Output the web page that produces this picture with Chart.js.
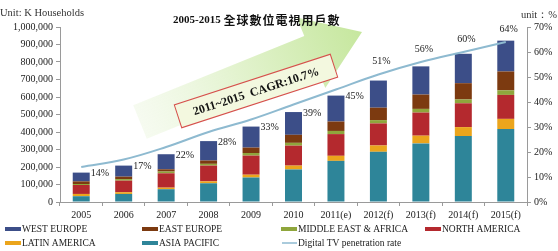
<!DOCTYPE html>
<html>
<head>
<meta charset="utf-8">
<title>2005-2015 全球數位電視用戶數</title>
<script src="https://cdn.jsdelivr.net/npm/chart.js"></script>
<style>
  html, body { margin: 0; padding: 0; background: #fff; }
  #wrap { position: relative; width: 558px; height: 251px; }
</style>
</head>
<body>
<div id="wrap"><canvas id="myChart" width="558" height="251"></canvas></div>
<script>
// data (K households)
const years = ['2005', '2006', '2007', '2008', '2009', '2010', '2011(e)', '2012(f)', '2013(f)', '2014(f)', '2015(f)'];
const asiaPacific = [33000, 46000, 73000, 107000, 140000, 186000, 235000, 287000, 335000, 377000, 417000];
const latinAmerica = [13000, 10000, 9000, 11000, 16000, 22000, 29000, 36000, 44000, 51000, 58000];
const northAmerica = [51000, 66000, 82000, 90000, 109000, 114000, 124000, 126000, 132000, 136000, 137000];
const middleEastAfrica = [6000, 9000, 10000, 10000, 15000, 16000, 18000, 19000, 21000, 22000, 26000];
const eastEurope = [15000, 14000, 13000, 19000, 31000, 46000, 54000, 71000, 82000, 93000, 108000];
const westEurope = [50000, 63000, 86000, 111000, 120000, 130000, 148000, 155000, 161000, 168000, 176000];
const penetration = [14, 17, 22, 28, 33, 39, 45, 51, 56, 60, 64];

const titleNum = '2005-2015 ';
const titleCjk = '全球數位電視用戶數';
const cagrText = '2011~2015  CAGR:10.7%';

const SERIF = '"Liberation Serif", "Times New Roman", serif';
const AXIS = '#9a9a9a';

// legend layout: [dataset index, column, row]
const legendOrder = [[6, 0, 0], [5, 1, 0], [4, 2, 0], [3, 3, 0], [2, 0, 1], [1, 1, 1], [0, 2, 1]];
const legendCols = [5, 142, 281, 425];
const legendRows = [229, 243];

const textPlugin = {
    id: 'texts',
    beforeDatasetsDraw(chart) {
        const ctx = chart.ctx;
        ctx.save();
        // big light green arrow
        const tail = { x: 140, y: 122 }, tip = { x: 362, y: 32 };
        const ang = Math.atan2(tip.y - tail.y, tip.x - tail.x);
        const len = Math.hypot(tip.x - tail.x, tip.y - tail.y);
        ctx.translate(tail.x, tail.y);
        ctx.rotate(ang);
        const g = ctx.createLinearGradient(0, 0, len, 0);
        g.addColorStop(0, 'rgba(240,248,230,0.6)');
        g.addColorStop(0.45, '#e3f3cf');
        g.addColorStop(1, '#c6e79e');
        ctx.fillStyle = g;
        ctx.beginPath();
        ctx.moveTo(0, -18);
        ctx.lineTo(len - 55, -18);
        ctx.lineTo(len - 55, -38);
        ctx.lineTo(len, 0);
        ctx.lineTo(len - 55, 38);
        ctx.lineTo(len - 55, 18);
        ctx.lineTo(0, 18);
        ctx.closePath();
        ctx.fill();
        ctx.restore();

        // CAGR box
        ctx.save();
        ctx.translate(256, 91);
        ctx.rotate(-18 * Math.PI / 180);
        ctx.fillStyle = '#f3f8df';
        ctx.fillRect(-82, -12, 164, 24);
        ctx.strokeStyle = '#d6504c';
        ctx.lineWidth = 1;
        ctx.strokeRect(-82, -12, 164, 24);
        ctx.fillStyle = '#111';
        ctx.font = 'bold 12px ' + SERIF;
        ctx.textAlign = 'center';
        ctx.textBaseline = 'middle';
        ctx.fillText(cagrText, 0, 1);
        ctx.restore();
    },
    afterDatasetsDraw(chart) {
        const ctx = chart.ctx;
        const barMeta = chart.getDatasetMeta(6);
        const lineMeta = chart.getDatasetMeta(0);
        ctx.save();
        ctx.fillStyle = '#222';
        ctx.font = '10px ' + SERIF;
        ctx.textBaseline = 'middle';
        penetration.forEach((v, i) => {
            const bar = barMeta.data[i];
            const pt = lineMeta.data[i];
            if (i < 7) {
                ctx.textAlign = 'left';
                ctx.fillText(v + '%', bar.x + bar.width / 2 + 1, bar.y + 1);
            } else {
                ctx.textAlign = 'center';
                ctx.fillText(v + '%', pt.x + 3, pt.y - 13);
            }
        });
        ctx.restore();
    },
    afterDraw(chart) {
        const ctx = chart.ctx;
        ctx.save();
        // title
        ctx.fillStyle = '#111';
        ctx.textBaseline = 'middle';
        ctx.textAlign = 'left';
        ctx.font = 'bold 11px ' + SERIF;
        ctx.fillText(titleNum, 173, 20);
        const w = ctx.measureText(titleNum).width;
        ctx.font = 'bold 12px "Noto Sans CJK TC", "Noto Sans CJK SC", sans-serif';
        ctx.letterSpacing = '1px';
        ctx.fillText(titleCjk, 173 + w, 20);
        ctx.letterSpacing = '0px';

        // units
        ctx.fillStyle = '#333';
        ctx.font = '10.5px ' + SERIF;
        ctx.fillText('Unit: K Households', 0, 13);
        ctx.textAlign = 'right';
        ctx.fillText('unit：%', 557, 15);

        // legend
        ctx.textAlign = 'left';
        ctx.font = '9.5px ' + SERIF;
        legendOrder.forEach(([di, c, r]) => {
            const ds = chart.data.datasets[di];
            const x = legendCols[c], y = legendRows[r];
            if (ds.type === 'line') {
                ctx.strokeStyle = ds.borderColor;
                ctx.lineWidth = 1.5;
                ctx.beginPath();
                ctx.moveTo(x + 1, y);
                ctx.lineTo(x + 16, y);
                ctx.stroke();
            } else {
                ctx.fillStyle = ds.backgroundColor;
                ctx.fillRect(x, y - 2, 16, 4);
            }
            ctx.fillStyle = '#222';
            ctx.fillText(ds.label, x + 17, y + 0.5);
        });
        ctx.restore();
    }
};

const ctx = document.getElementById('myChart').getContext('2d');
new Chart(ctx, {
    type: 'bar',
    data: {
        labels: years,
        datasets: [
            { type: 'line', label: 'Digital TV penetration rate', data: penetration, yAxisID: 'y1',
              borderColor: '#8ebad0', borderWidth: 2, pointRadius: 0, tension: 0.4, fill: false, order: -1 },
            { label: 'ASIA PACIFIC', data: asiaPacific, backgroundColor: '#2e8599' },
            { label: 'LATIN AMERICA', data: latinAmerica, backgroundColor: '#eba51c' },
            { label: 'NORTH AMERICA', data: northAmerica, backgroundColor: '#b4292e' },
            { label: 'MIDDLE EAST & AFRICA', data: middleEastAfrica, backgroundColor: '#8fa63c' },
            { label: 'EAST EUROPE', data: eastEurope, backgroundColor: '#7c3a10' },
            { label: 'WEST EUROPE', data: westEurope, backgroundColor: '#3c4e88' },
        ],
    },
    options: {
        responsive: false,
        animation: false,
        layout: { padding: { top: 27, left: 0, right: 0, bottom: 0 } },
        datasets: { bar: { categoryPercentage: 1, barPercentage: 0.4 } },
        plugins: { legend: { display: false }, tooltip: { enabled: false } },
        scales: {
            x: {
                stacked: true,
                grid: { drawOnChartArea: false, offset: true, tickLength: 4, color: AXIS },
                border: { color: AXIS },
                ticks: { font: { family: SERIF, size: 10 }, color: '#222', padding: 3, maxRotation: 0, autoSkip: false },
                afterFit: s => { s.height = 49; },
            },
            y: {
                stacked: true,
                min: 0,
                max: 1000000,
                grid: { drawOnChartArea: false, tickLength: 4, color: AXIS },
                border: { color: AXIS },
                ticks: { stepSize: 100000, font: { family: SERIF, size: 10 }, color: '#222', padding: 3 },
                afterFit: s => { s.width = 60; },
            },
            y1: {
                position: 'right',
                min: 0,
                max: 70,
                grid: { drawOnChartArea: false, tickLength: 4, color: AXIS },
                border: { color: AXIS },
                ticks: { stepSize: 10, font: { family: SERIF, size: 10 }, color: '#222', padding: 3, callback: v => v + '%' },
                afterFit: s => { s.width = 31; },
            },
        },
    },
    plugins: [textPlugin],
});
</script>
</body>
</html>
